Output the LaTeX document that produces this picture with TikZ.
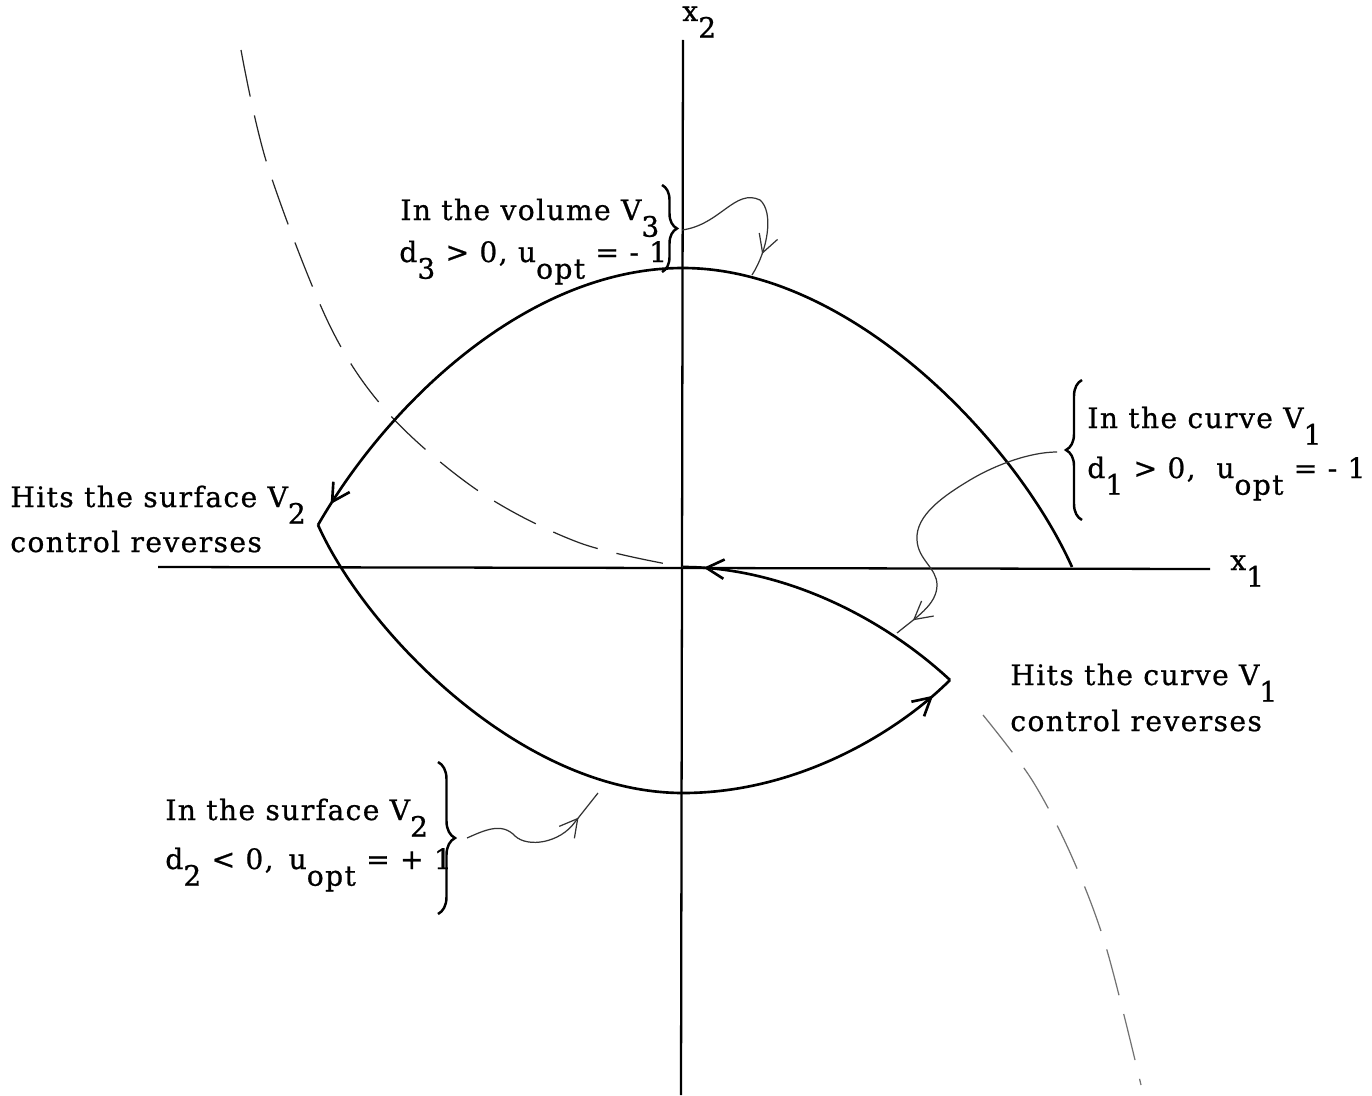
\documentclass[tikz,border=0pt]{standalone}
\usepackage{fontspec}
\setmainfont[LetterSpace=5,FakeBold=0.8]{DejaVu Serif}
\usetikzlibrary{arrows.meta,decorations.markings,decorations.pathreplacing}
\newcommand\dn[1]{\raisebox{-9.5pt}{#1}}
\begin{document}
\begin{tikzpicture}[x=0.02cm,y=-0.02cm,
  lbl/.style={anchor=base west,inner sep=0pt,font=\fontsize{16}{18}\selectfont},
  traj/.style={line width=1.5pt},
  axis/.style={line width=1.3pt},
  sw/.style={dash pattern=on 27pt off 11pt,line width=0.7pt},
  conn/.style={line width=0.7pt,black!80},
  brc/.style={decorate,decoration={brace,amplitude=#1},line width=1.4pt},
  markarr/.style={postaction={decorate,decoration={markings,mark=at position #1 with {\arrow{Straight Barb[length=10pt,width=11pt]}}}}}
]
\useasboundingbox (0,0) rectangle (1372,1095);

% key points
\coordinate (O) at (683,567);
\coordinate (V) at (318,525);
\coordinate (W) at (950,680);
\coordinate (A) at (1072,567);
\coordinate (T) at (683,268);
\coordinate (B) at (683,793);
\coordinate (yt) at (683,40);
\coordinate (yb) at (681,1095);
\coordinate (xl) at (158,567);
\coordinate (xr) at (1210,569);

% axes
\draw[axis] (yb) -- (yt);
\draw[axis] (xl) -- (xr);
\node[lbl] (x2) at (682,21) {x\dn{2}};
\node[lbl] (x1) at (1230,570) {x\dn{1}};

% switching curve (dashed)
\coordinate (s0) at (241,50);
\draw[sw,black!85] plot[smooth,tension=0.55] coordinates {(s0) (268,167) (330,326) (390,415) (480,492) (580,543) (O)};
\coordinate (s1) at (983,715);
\draw[sw,black!55] plot[smooth,tension=0.55] coordinates {(s1) (1032,780) (1072,857) (1106,947) (1141,1085)};

% trajectory
\draw[traj,markarr=0.975] (A) .. controls (1015,440) and (850,268) .. (T) .. controls (530,268) and (390,400) .. (V);
\draw[traj,markarr=0.97] (V) .. controls (365,630) and (520,793) .. (B) .. controls (800,793) and (900,730) .. (W);
\draw[traj,markarr=0.93] (W) .. controls (880,615) and (780,567) .. (O);

% labels
\node[lbl] (v3a) at (400,220) {In the volume V\dn{3}};
\node[lbl] (v3b) at (399,262) {d\dn{3} > 0, u\dn{opt} = - 1};
\node[lbl] (v1a) at (1087,428) {In the curve V\dn{1}};
\node[lbl] (v1b) at (1087,478) {d\dn{1} > 0,\ \ u\dn{opt} = - 1};
\node[lbl] (hs1) at (10,507) {Hits the surface V\dn{2}};
\node[lbl] (hs2) at (10,552) {control reverses};
\node[lbl] (hc1) at (1010,685) {Hits the curve V\dn{1}};
\node[lbl] (hc2) at (1010,731) {control reverses};
\node[lbl] (v2a) at (165,820) {In the surface V\dn{2}};
\node[lbl] (v2b) at (165,869) {d\dn{2} < 0,\,\ u\dn{opt} = + 1};

% braces
\draw[brc=0.3cm] (662,185) -- (662,272);
\draw[brc=0.32cm] (1082,520) -- (1082,380);
\draw[brc=0.34cm] (438,762) -- (438,914);
\coordinate (b3) at (682,230);
\coordinate (b1) at (1057,452);
\coordinate (b2) at (467,838);
\coordinate (e3) at (752,275);
\coordinate (e1) at (897,633);
\coordinate (e2) at (598,793);

% connectors
\draw[conn,markarr=0.86] (b3) .. controls (720,225) and (735,188) .. (760,200) .. controls (774,212) and (768,250) .. (e3);
\draw[conn,markarr=0.93] (b1) .. controls (1030,452) and (995,465) .. (970,480) .. controls (945,495) and (915,515) .. (917,540) .. controls (918,560) and (937,568) .. (937,585) .. controls (937,605) and (915,618) .. (e1);
\draw[conn,markarr=0.8] (b2) .. controls (485,830) and (502,822) .. (515,836) .. controls (528,848) and (560,843) .. (575,822) -- (e2);
\end{tikzpicture}
\end{document}
